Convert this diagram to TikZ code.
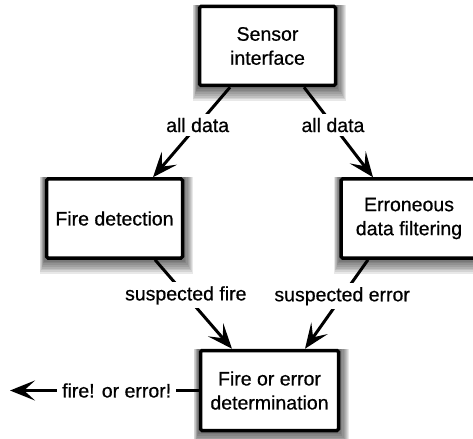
\documentclass[tikz,border=0pt]{standalone}
\usepackage{fontspec}
\setmainfont{Liberation Sans}[FakeBold=0.6]
\usetikzlibrary{arrows.meta,backgrounds}
\newcommand\labelfont{\fontsize{19.5bp}{24bp}\selectfont}
\tikzset{
  block/.style={draw, line width=3.5bp, fill=white, align=center, rounded corners=1.5bp,
    minimum width=136bp, minimum height=79bp, inner sep=0pt, font=\labelfont},
  flow/.style={line width=3bp, -{Stealth[length=25bp,width=20bp,inset=11bp]}},
  tag/.style={fill=white, inner xsep=5bp, inner ysep=4bp, font=\labelfont},
  halo/.style={fill=black, fill opacity=0.09},
}
\begin{document}
\begin{tikzpicture}[x=1bp, y=-1bp]
\useasboundingbox (0,0) rectangle (473,439);

% processing blocks
\node[block] (sen) at (267.5,46)  {Sensor\\interface};
\node[block] (fd)  at (114.5,218.5) {Fire detection};
\node[block] (ef)  at (409,218.5) {Erroneous\\data filtering};
\node[block, minimum width=138bp, minimum height=80bp] (det) at (269.5,390.5) {Fire or error\\determination};

% soft shadows behind the blocks
\begin{scope}[on background layer]
  \foreach \b in {sen,fd,ef,det}{
    \foreach \k in {1,...,8}{
      \fill[halo] ([xshift=-\k*0.65bp, yshift=-\k*1.75bp]\b.south west)
        rectangle ([xshift=\k*1.1bp]\b.north east);
    }
  }
\end{scope}

% data flows
\coordinate (out) at (10,390.5);
\draw[flow] ([xshift=-37.5bp]sen.south) -- node[tag, pos=0.42] {all data} ([xshift=38.5bp]fd.north);
\draw[flow] ([xshift=36.5bp]sen.south) -- node[tag, pos=0.42] {all data} ([xshift=-36bp]ef.north);
\draw[flow] ([xshift=40.5bp]fd.south) -- node[tag, pos=0.4] {suspected fire} ([xshift=-37.5bp]det.north);
\draw[flow] ([xshift=-41bp]ef.south) -- node[tag, pos=0.41] {suspected error} ([xshift=35.5bp]det.north);
\draw[flow] (det.west) -- node[tag, pos=0.435] {fire! or error!} (out);
\end{tikzpicture}
\end{document}
